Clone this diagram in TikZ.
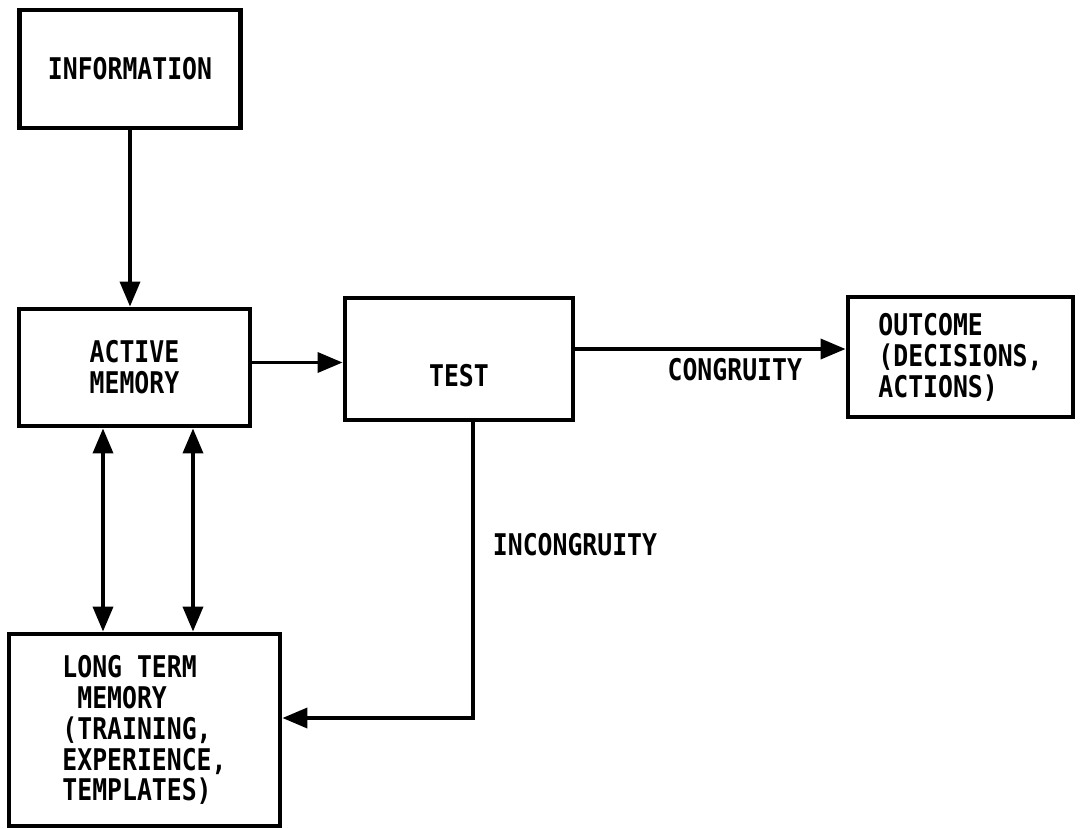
\documentclass[tikz,border=0pt]{standalone}
\usepackage{fontspec}
\setmonofont[FakeStretch=0.83]{DejaVu Sans Mono}
\usetikzlibrary{arrows.meta}
\begin{document}
\begin{tikzpicture}[
  x=0.02cm, y=-0.02cm,
  box/.style={draw, rectangle, line width=2.8pt, inner sep=0pt, align=center,
    font=\fontsize{17pt}{17.6pt}\selectfont\ttfamily\bfseries},
  lbl/.style={inner sep=0pt, font=\fontsize{17pt}{17.6pt}\selectfont\ttfamily\bfseries},
  link/.style={line width=2.1pt, -{Triangle[length=0.5cm, width=0.4cm]}},
  both/.style={line width=2.1pt, {Triangle[length=0.5cm, width=0.4cm]}-{Triangle[length=0.5cm, width=0.4cm]}}
]
\useasboundingbox (0,0) rectangle (1080,829);
\node[box, minimum width=4.42cm, minimum height=2.36cm] (info) at (130,69) {INFORMATION};
\node[box, minimum width=4.62cm, minimum height=2.34cm] (active) at (134.5,367.5) {ACTIVE\\MEMORY};
\node[box, minimum width=4.56cm, minimum height=2.44cm] (test) at (459,359) {\raisebox{-0.54cm}[0pt][0pt]{TEST}};
\node[box, minimum width=4.5cm, minimum height=2.4cm, align=left] (outcome) at (960.5,357) {OUTCOME\\(DECISIONS,\\ACTIONS)};
\node[box, minimum width=5.42cm, minimum height=3.84cm, align=left] (ltm) at (144.5,730) {LONG TERM\\\ MEMORY\\(TRAINING,\\EXPERIENCE,\\TEMPLATES)};
\node[lbl] (incong) at (575,545) {INCONGRUITY};
\draw[link] (info.south) -- (info.south |- active.north);
\draw[link] ([yshift=0.1cm]active.east) -- ([yshift=0.1cm]active.east -| test.west);
\draw[link] ([yshift=0.2cm]test.east) -- ([yshift=0.2cm]test.east -| outcome.west)
  node[lbl, below=4pt, pos=0.59] (congr) {CONGRUITY};
\draw[both] ([xshift=-0.63cm]active.south) -- ([xshift=-0.63cm]active.south |- ltm.north);
\draw[both] ([xshift=1.17cm]active.south) -- ([xshift=1.17cm]active.south |- ltm.north);
\draw[link] ([xshift=0.28cm]test.south) |- ([yshift=0.24cm]ltm.east);
\end{tikzpicture}
\end{document}
